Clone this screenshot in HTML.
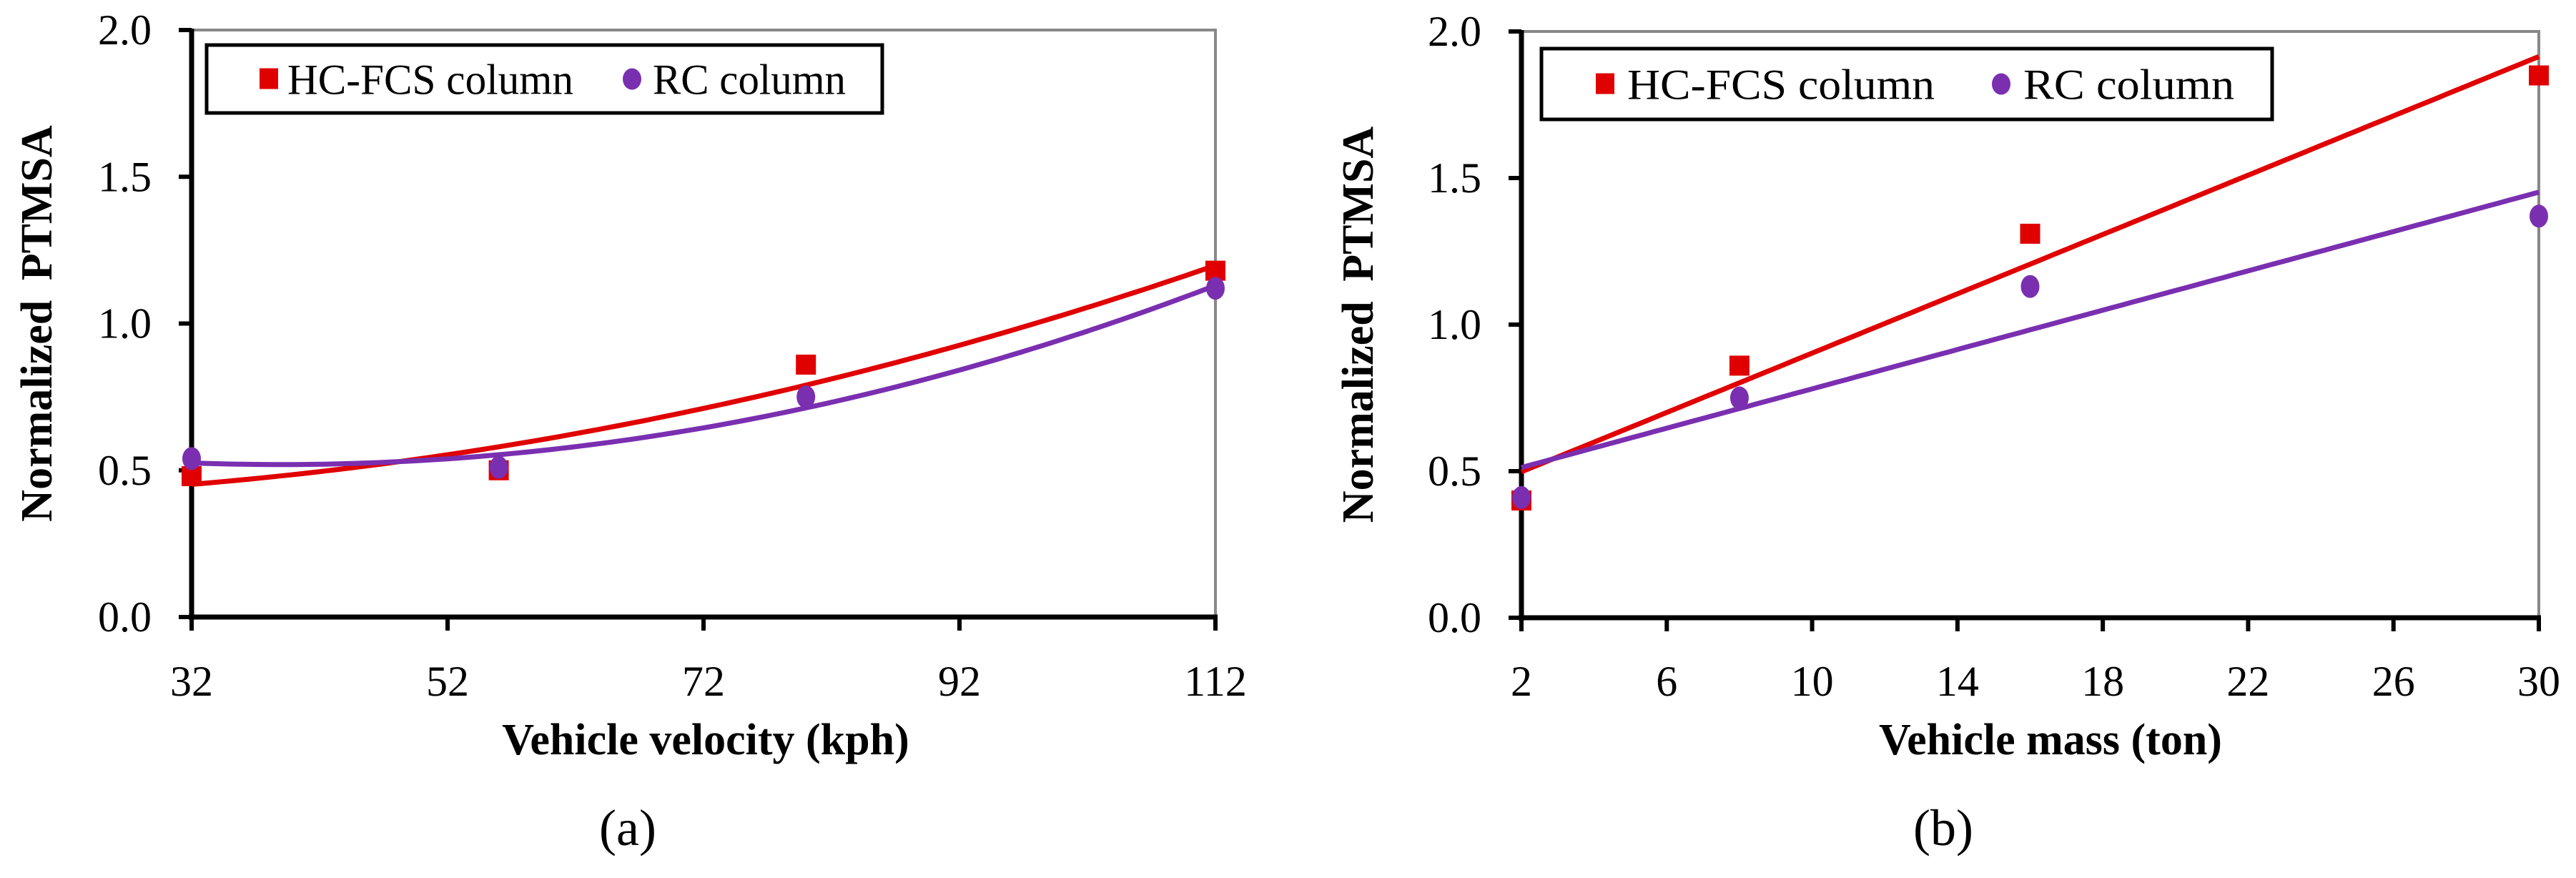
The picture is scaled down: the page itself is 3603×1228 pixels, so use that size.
<!DOCTYPE html>
<html><head><meta charset="utf-8"><style>
html,body{margin:0;padding:0;background:#fff}
svg{display:block;font-family:"Liberation Serif",serif}
</style></head><body>
<svg id="fig" width="3603" height="1228" viewBox="0 0 3603 1228" xmlns="http://www.w3.org/2000/svg"></svg>
<script>
// Panel (a) data
const velCategories = [32, 56, 80, 112];
const velHC = [0.48, 0.50, 0.86, 1.18];
const velRC = [0.54, 0.51, 0.75, 1.12];
const velTicks = [32, 52, 72, 92, 112];
// Panel (b) data
const massCategories = [2, 8, 16, 30];
const massHC = [0.40, 0.86, 1.31, 1.85];
const massRC = [0.41, 0.75, 1.13, 1.37];
const massTicks = [2, 6, 10, 14, 18, 22, 26, 30];
const yTickLabels = ["0.0", "0.5", "1.0", "1.5", "2.0"];
const yTicks = [0, 0.5, 1.0, 1.5, 2.0];

const NS = "http://www.w3.org/2000/svg";
const svg = document.getElementById('fig');
function mk(tag, attrs, parent) {
  const e = document.createElementNS(NS, tag);
  for (const k in attrs) e.setAttribute(k, attrs[k]);
  (parent || svg).appendChild(e);
  return e;
}
const RED = "#e00000", PUR = "#7a2fb0";

function solve3(A, b) {
  const M = A.map((r, i) => r.concat([b[i]]));
  for (let i = 0; i < 3; i++) {
    let p = i;
    for (let r = i + 1; r < 3; r++) if (Math.abs(M[r][i]) > Math.abs(M[p][i])) p = r;
    [M[i], M[p]] = [M[p], M[i]];
    for (let r = 0; r < 3; r++) if (r !== i) {
      const f = M[r][i] / M[i][i];
      for (let c = i; c < 4; c++) M[r][c] -= f * M[i][c];
    }
  }
  return M.map((r, i) => r[3] / r[i]);
}
function polyFit(xs, ys, deg) {
  if (deg === 1) {
    const n = xs.length, mx = xs.reduce((a, b) => a + b) / n, my = ys.reduce((a, b) => a + b) / n;
    let sxx = 0, sxy = 0;
    xs.forEach((x, i) => { sxx += (x - mx) ** 2; sxy += (x - mx) * (ys[i] - my); });
    const m = sxy / sxx;
    return x => my + m * (x - mx);
  }
  const S = k => xs.reduce((a, x) => a + x ** k, 0);
  const T = k => xs.reduce((a, x, i) => a + ys[i] * x ** k, 0);
  const c = solve3([[S(0), S(1), S(2)], [S(1), S(2), S(3)], [S(2), S(3), S(4)]], [T(0), T(1), T(2)]);
  return x => c[0] + c[1] * x + c[2] * x * x;
}

function panel(cfg) {
  const g = mk('g', {});
  
  
  const {x0, x1, y0, y1, xmin, xmax} = cfg;
  const sx = v => x0 + (v - xmin) / (xmax - xmin) * (x1 - x0);
  const sy = v => y0 - v / 2 * (y0 - y1);
  // frame top/right
  const fr = mk('path', {d: `M${x0} ${y1} H${x1} V${y0}`, fill: 'none', stroke: '#888', 'stroke-width': 4}, g);
  
  
  // y ticks
  yTicks.forEach((v, i) => {
    const t = mk('line', {x1: x0 - 18, x2: x0, y1: sy(v), y2: sy(v), stroke: '#000', 'stroke-width': 6}, g);
    
    
    const l = mk('text', {x: cfg.ylabX, y: sy(v) + 20, 'text-anchor': 'end', 'font-size': 60}, g);
    l.textContent = yTickLabels[i];
    
    
  });
  cfg.ticks.forEach(v => {
    const t = mk('line', {x1: sx(v), x2: sx(v), y1: y0, y2: y0 + 19, stroke: '#000', 'stroke-width': 6}, g);
    
    
    const l = mk('text', {x: sx(v), y: 973, 'text-anchor': 'middle', 'font-size': 60}, g);
    l.textContent = v;
    
    
  });
  const ya = mk('line', {x1: x0, x2: x0, y1: y1 - 2, y2: y0 + 4, stroke: '#000', 'stroke-width': 7}, g);
  
  
  const xa = mk('line', {x1: x0 - 4, x2: x1 + 3, y1: y0, y2: y0, stroke: '#000', 'stroke-width': 7}, g);
  
  
  // trendlines
  [[cfg.hc, RED, 'hc-trendline'], [cfg.rc, PUR, 'rc-trendline']].forEach(([ys, col, nm]) => {
    const f = polyFit(cfg.cats, ys, cfg.deg);
    let d = '';
    for (let i = 0; i <= 100; i++) {
      const xv = xmin + (xmax - xmin) * i / 100;
      d += (i ? 'L' : 'M') + sx(xv).toFixed(1) + ' ' + sy(f(xv)).toFixed(1);
    }
    const p = mk('path', {d, fill: 'none', stroke: col, 'stroke-width': 7}, g);
    
    
  });
  // markers
  cfg.cats.forEach((c, i) => {
    const r = mk('rect', {x: sx(c) - 14, y: sy(cfg.hc[i]) - 14, width: 28, height: 28, fill: RED}, g);
    
    
  });
  cfg.cats.forEach((c, i) => {
    const e = mk('ellipse', {cx: sx(c), cy: sy(cfg.rc[i]), rx: 13, ry: 16, fill: PUR}, g);
    
    
  });
  // legend
  const L = cfg.leg;
  const lg = mk('g', {}, g);
  
  
  mk('rect', {x: L.x, y: L.y, width: L.w, height: L.h, fill: '#fff', stroke: '#000', 'stroke-width': 5}, lg);
  const cy = L.y + L.h / 2;
  const m1 = mk('rect', {x: L.m1 - 13, y: cy - 15, width: 26, height: 29, fill: RED}, lg);
  
  
  const t1 = mk('text', {x: L.t1, y: cy + 21, 'font-size': 60, textLength: L.w1, lengthAdjust: 'spacingAndGlyphs'}, lg);
  t1.textContent = 'HC-FCS column';
  
  
  const m2 = mk('ellipse', {cx: L.m2, cy: cy, rx: 13, ry: 15, fill: PUR}, lg);
  
  
  const t2 = mk('text', {x: L.t2, y: cy + 21, 'font-size': 60, textLength: L.w2, lengthAdjust: 'spacingAndGlyphs'}, lg);
  t2.textContent = 'RC column';
  
  
  // titles
  const xt = mk('text', {x: cfg.xtX, y: 1055, 'text-anchor': 'middle', 'font-size': 62, 'font-weight': 'bold'}, g);
  xt.textContent = cfg.xtitle;
  
  
  const yt = mk('text', {x: 0, y: 0, 'text-anchor': 'middle', 'font-size': 62, 'font-weight': 'bold', 'word-spacing': 12,
    transform: `translate(${cfg.ytX},${(y0 + y1) / 2}) rotate(-90)`}, g);
  yt.textContent = 'Normalized PTMSA';
  
  
  const pl = mk('text', {x: cfg.plX, y: 1182, 'text-anchor': 'middle', 'font-size': 72}, g);
  pl.textContent = cfg.panelLabel;
  
  
}

panel({name: 'chart-velocity', x0: 268, x1: 1700, y0: 863, y1: 42, xmin: 32, xmax: 112,
  cats: velCategories, hc: velHC, rc: velRC, ticks: velTicks, deg: 2, ylabX: 212,
  leg: {x: 289, y: 63, w: 945, h: 95, m1: 376, t1: 402, w1: 400, m2: 884, t2: 913, w2: 270},
  xtX: 987, xtitle: 'Vehicle velocity (kph)', ytX: 72, plX: 878, panelLabel: '(a)'});
panel({name: 'chart-mass', x0: 2128, x1: 3551, y0: 864, y1: 44, xmin: 2, xmax: 30,
  cats: massCategories, hc: massHC, rc: massRC, ticks: massTicks, deg: 1, ylabX: 2072,
  leg: {x: 2156, y: 68, w: 1022, h: 99, m1: 2245, t1: 2276, w1: 430, m2: 2799, t2: 2830, w2: 295},
  xtX: 2868, xtitle: 'Vehicle mass (ton)', ytX: 1920, plX: 2718, panelLabel: '(b)'});
</script>
</body></html>
